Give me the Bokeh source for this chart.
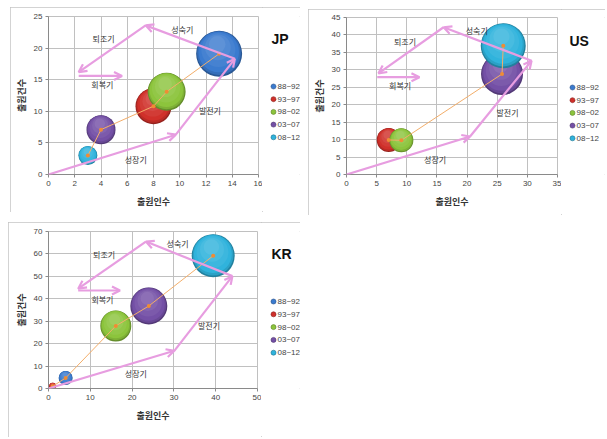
import math
from bokeh.plotting import figure
from bokeh.models import (Range1d, Label, Arrow, OpenHead, FixedTicker, ColumnDataSource)
from bokeh.layouts import row, column
from bokeh.embed import file_html
from bokeh.resources import INLINE

nan = float("nan")

# ---------------- data ----------------
periods = ["88~92", "93~97", "98~02", "03~07", "08~12"]
stage_names = ["성장기", "발전기", "성숙기", "퇴조기", "회복기"]

jp_x = [13.0, 8.0, 9.0, 4.0, 3.0]
jp_y = [19.1, 10.8, 13.1, 7.1, 3.0]
jp_bubble = [46, 36, 38, 29, 19]

us_x = [nan, 7.0, 9.1, 25.8, 26.0]
us_y = [nan, 9.9, 9.8, 28.8, 36.9]
us_bubble = [0, 24, 24, 42, 45]

kr_x = [4.1, 1.0, 16.1, 24.0, 39.4]
kr_y = [4.7, 1.0, 27.9, 36.8, 59.2]
kr_bubble = [14, 7, 31, 37, 43]

# life-cycle path (growth -> development -> maturity -> decline) and recovery arrow
jp_cycle_x = [0.0, 9.7, 14.2, 7.4, 2.3]
jp_cycle_y = [0.0, 6.3, 18.3, 23.6, 16.2]
jp_recover_x = [2.3, 5.6]
jp_recover_y = [15.6, 15.6]
jp_stage_x = [6.65, 12.3, 10.2, 4.2, 4.1]
jp_stage_y = [2.3, 10.1, 22.9, 21.5, 14.2]

us_cycle_x = [0.0, 20.5, 30.7, 16.1, 5.3]
us_cycle_y = [0.0, 10.9, 32.6, 42.2, 29.0]
us_recover_x = [5.1, 12.1]
us_recover_y = [27.9, 27.9]
us_stage_x = [14.7, 26.7, 21.6, 9.7, 8.9]
us_stage_y = [4.3, 17.9, 41.4, 38.2, 25.5]

kr_cycle_x = [0.0, 30.1, 44.0, 23.3, 7.1]
kr_cycle_y = [0.0, 16.8, 50.1, 65.5, 44.5]
kr_recover_x = [7.1, 17.1]
kr_recover_y = [43.7, 43.7]
kr_stage_x = [20.9, 38.4, 30.9, 13.3, 12.9]
kr_stage_y = [6.7, 28.2, 64.5, 59.6, 39.7]

jp_xticks = [0, 2, 4, 6, 8, 10, 12, 14, 16]
jp_yticks = [0, 5, 10, 15, 20, 25]
us_xticks = [0, 5, 10, 15, 20, 25, 30, 35]
us_yticks = [0, 5, 10, 15, 20, 25, 30, 35, 40, 45]
kr_xticks = [0, 10, 20, 30, 40, 50]
kr_yticks = [0, 10, 20, 30, 40, 50, 60, 70]

# ---------------- styles ----------------
colors = ["#3b7bcf", "#d0302a", "#8cc43c", "#7450a6", "#30b3dc"]
PINK = "#e79de0"
ORANGE_LINE = "#f3ae6a"
ORANGE_DOT = "#f08c34"
KFONT = "Noto Sans CJK KR"
NFONT = "Liberation Sans"


def mix(hexc, t):
    r, g, b = int(hexc[1:3], 16), int(hexc[3:5], 16), int(hexc[5:7], 16)
    if t >= 0:
        r, g, b = [int(c + (255 - c) * t) for c in (r, g, b)]
    else:
        r, g, b = [int(c * (1 + t)) for c in (r, g, b)]
    return "#%02x%02x%02x" % (r, g, b)


LAYERS = [(1.0, -0.28), (0.95, -0.10), (0.88, 0.0), (0.74, 0.06), (0.56, 0.12), (0.36, 0.18)]


def make_panel(name, xs, ys, ds, xmax, ymax, xticks, yticks,
               cyc_x, cyc_y, rec_x, rec_y, st_x, st_y,
               fw, fh, bl, bt, bb, side_w, margin, title_pos, leg_pos):
    total_h = bt + fh + bb
    p = figure(width=bl + fw + 4, height=total_h,
               min_border_left=bl, min_border_right=4,
               min_border_top=bt, min_border_bottom=bb,
               x_range=Range1d(0, xmax), y_range=Range1d(0, ymax),
               toolbar_location=None, output_backend="svg", title=None,
               background_fill_color="white", border_fill_color="white")
    p.xaxis.ticker = FixedTicker(ticks=xticks)
    p.yaxis.ticker = FixedTicker(ticks=yticks)
    for ax in (p.xaxis, p.yaxis):
        ax.major_label_text_font = NFONT
        ax.major_label_text_font_size = "8px"
        ax.major_label_text_color = "#444444"
        ax.axis_line_color = "#8a8a8a"
        ax.major_tick_line_color = "#8a8a8a"
        ax.major_tick_out = 3
        ax.major_tick_in = 0
        ax.minor_tick_line_color = None
        ax.axis_label_text_font = KFONT
        ax.axis_label_text_font_size = "9px"
        ax.axis_label_text_font_style = "bold"
        ax.axis_label_text_color = "#333333"
        ax.major_label_standoff = 3
    p.xaxis.axis_label = "출원인수"
    p.yaxis.axis_label = "출원건수"
    p.xaxis.axis_label_standoff = 6
    p.yaxis.axis_label_standoff = 3
    p.xgrid.grid_line_color = "#c0c0c0"
    p.ygrid.grid_line_color = "#c0c0c0"
    p.outline_line_color = "#c0c0c0"

    px_x = xmax / fw
    px_y = ymax / fh

    # bubbles with a soft 3-D shading (lighter toward the top)
    for i in range(len(periods)):
        d = ds[i]
        base = colors[i]
        for f, t in LAYERS:
            off = (1 - f) * d * 0.32
            src = ColumnDataSource(dict(x=[xs[i] - off * 0.2 * px_x], y=[ys[i] + off * px_y]))
            p.scatter("x", "y", source=src, size=d * f, fill_color=mix(base, t),
                      line_color=None, marker="circle")

    # orange connecting line
    pts = sorted([(x, y) for x, y in zip(xs, ys) if not math.isnan(x)])
    lsrc = ColumnDataSource(dict(x=[a for a, b in pts], y=[b for a, b in pts]))
    p.line("x", "y", source=lsrc, line_color=ORANGE_LINE, line_width=1)
    p.scatter("x", "y", source=lsrc, size=4, fill_color=ORANGE_DOT, line_color=None)

    # pink life-cycle arrows
    asrc = ColumnDataSource(dict(x0=cyc_x[:-1], y0=cyc_y[:-1], x1=cyc_x[1:], y1=cyc_y[1:]))
    p.add_layout(Arrow(source=asrc, x_start="x0", y_start="y0", x_end="x1", y_end="y1",
                       line_color=PINK, line_width=2.2,
                       end=OpenHead(size=8, line_color=PINK, line_width=2.2)))
    p.add_layout(Arrow(x_start=rec_x[0], y_start=rec_y[0], x_end=rec_x[1], y_end=rec_y[1],
                       line_color=PINK, line_width=2.2,
                       end=OpenHead(size=8, line_color=PINK, line_width=2.2)))

    for sx, sy, s in zip(st_x, st_y, stage_names):
        p.add_layout(Label(x=sx, y=sy, text=s, text_font=KFONT, text_font_size="8px",
                           text_color="#333333", text_align="center", text_baseline="middle"))

    # side area: title + legend (pixels from the top of the plot frame, y downward)
    s = figure(width=side_w, height=total_h, min_border_left=0, min_border_right=0,
               min_border_top=bt, min_border_bottom=bb,
               x_range=Range1d(0, side_w), y_range=Range1d(fh, 0),
               toolbar_location=None, output_backend="svg", title=None,
               x_axis_location=None, y_axis_location=None,
               background_fill_color="white", border_fill_color="white")
    s.xgrid.visible = False
    s.ygrid.visible = False
    s.outline_line_color = None
    s.add_layout(Label(x=title_pos[0], y=title_pos[1], text=name, text_font=NFONT,
                       text_font_size="14px", text_font_style="bold", text_color="#111111",
                       text_align="left", text_baseline="middle"))
    lx, ly0, dy = leg_pos
    leg_y = [ly0 + i * dy for i in range(len(periods))]
    lsrc2 = ColumnDataSource(dict(x=[lx] * len(periods), y=leg_y, c=colors,
                                  lc=[mix(c, -0.35) for c in colors], t=periods))
    s.scatter("x", "y", source=lsrc2, size=5, fill_color="c", line_color="lc", line_width=0.6)
    for yy, t in zip(leg_y, periods):
        s.add_layout(Label(x=lx + 4, y=yy, text=t, text_font=NFONT, text_font_size="8px",
                           text_color="#444444", text_align="left", text_baseline="middle"))

    panel = row(p, s, margin=margin,
                styles={"outline": "1px solid #c4c4c4", "outline-offset": "-1px"})
    return panel


jp = make_panel("JP", jp_x, jp_y, jp_bubble, 16, 25, jp_xticks, jp_yticks,
                jp_cycle_x, jp_cycle_y, jp_recover_x, jp_recover_y, jp_stage_x, jp_stage_y,
                210, 158, 38, 9, 38, 38, (7, 0, 0, 10), (9, 22), (11, 70, 12.7))
us = make_panel("US", us_x, us_y, us_bubble, 35, 45, us_xticks, us_yticks,
                us_cycle_x, us_cycle_y, us_recover_x, us_recover_y, us_stage_x, us_stage_y,
                211, 157, 38, 8, 41, 44, (9, 0, 0, 8), (8, 23), (11, 70, 12.7))
kr = make_panel("KR", kr_x, kr_y, kr_bubble, 50, 70, kr_xticks, kr_yticks,
                kr_cycle_x, kr_cycle_y, kr_recover_x, kr_recover_y, kr_stage_x, kr_stage_y,
                209, 157, 40, 9, 49, 39, (7, 0, 0, 8), (10, 22), (12, 70, 12.8))

layout = column(row(jp, us), kr)
open("out.html", "w").write(file_html(layout, INLINE))
